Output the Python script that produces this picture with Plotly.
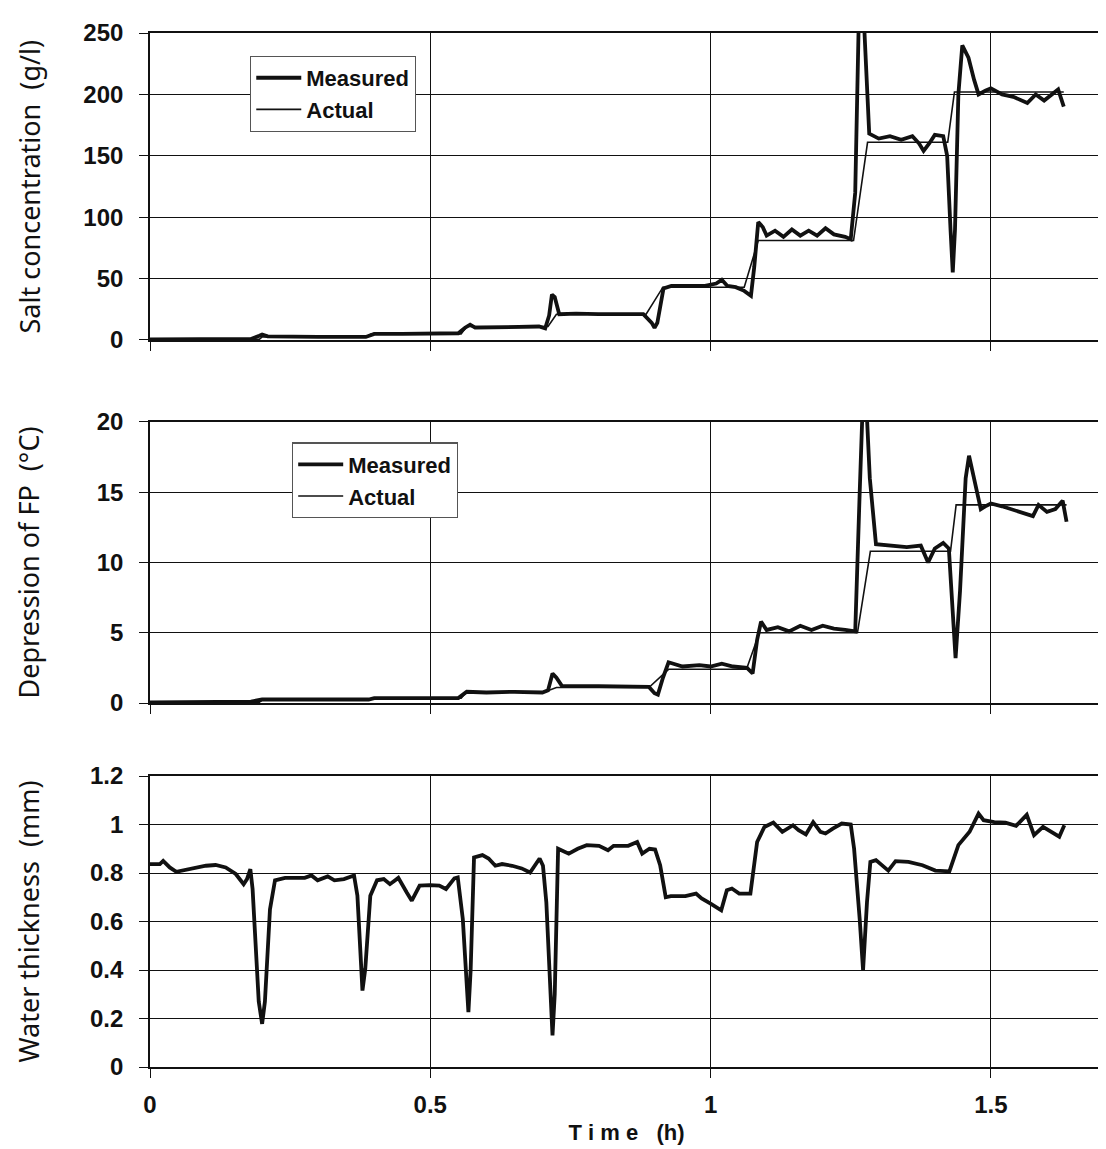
import plotly.graph_objects as go

# ---------------- data (time in hours) ----------------
salt_meas_t = [0, 0.18, 0.195, 0.2, 0.21, 0.25, 0.3, 0.385, 0.4, 0.45, 0.5, 0.55, 0.562, 0.571, 0.58, 0.62,
               0.66, 0.694, 0.705, 0.712, 0.717, 0.722, 0.73, 0.76, 0.8, 0.84, 0.88, 0.895, 0.9, 0.905, 0.916,
               0.93, 0.96, 0.99, 1.01, 1.02, 1.03, 1.045, 1.06, 1.072, 1.078, 1.085, 1.093, 1.10, 1.115, 1.13,
               1.145, 1.16, 1.175, 1.19, 1.205, 1.22, 1.24, 1.25, 1.258, 1.265, 1.272, 1.283, 1.30, 1.32, 1.34,
               1.36, 1.372, 1.38, 1.39, 1.40, 1.415, 1.422, 1.428, 1.432, 1.436, 1.442, 1.449, 1.46, 1.47, 1.478,
               1.49, 1.50, 1.52, 1.54, 1.565, 1.58, 1.595, 1.61, 1.62, 1.63]
salt_meas_v = [0.5, 0.8, 3.5, 4.5, 3, 2.5, 2.5, 2.5, 5, 5, 5, 5.5, 10, 12.5, 10, 10.5,
               11, 11, 9.5, 20, 37, 35, 21, 21.5, 21, 21, 21, 14, 10, 14, 42,
               44, 44, 44, 46, 49, 44, 43, 40, 36, 60, 96, 92, 85, 89, 84,
               90, 85, 89, 85, 91, 86, 84, 82, 120, 275, 275, 168, 164, 166, 163,
               166, 160, 154, 160, 167, 166, 150, 90, 55, 90, 200, 240, 230, 212, 200,
               203, 205, 200, 198, 193, 200, 195, 200, 204, 190]

salt_act_t = [0, 0.195, 0.2, 0.385, 0.395, 0.555, 0.565, 0.71, 0.725, 0.885, 0.915, 1.06, 1.085, 1.255,
              1.28, 1.423, 1.435, 1.63]
salt_act_v = [0.5, 0.5, 2.5, 2.5, 5, 5, 11, 11, 21, 21, 43, 43, 81, 81, 161, 161, 202, 202]

fp_meas_t = [0, 0.18, 0.2, 0.39, 0.4, 0.55, 0.565, 0.6, 0.65, 0.70, 0.71, 0.718, 0.725, 0.735, 0.8, 0.85,
             0.89, 0.9, 0.906, 0.915, 0.925, 0.95, 0.98, 1.0, 1.02, 1.04, 1.065, 1.075, 1.083, 1.09, 1.10,
             1.12, 1.14, 1.16, 1.18, 1.20, 1.22, 1.24, 1.258, 1.266, 1.272, 1.277, 1.284, 1.295, 1.32, 1.35,
             1.375, 1.388, 1.40, 1.415, 1.425, 1.432, 1.437, 1.445, 1.455, 1.461, 1.47, 1.482, 1.49, 1.50,
             1.52, 1.55, 1.575, 1.585, 1.60, 1.615, 1.628, 1.635]
fp_meas_v = [0.05, 0.1, 0.25, 0.25, 0.35, 0.35, 0.8, 0.75, 0.8, 0.75, 0.9, 2.1, 1.8, 1.2, 1.2, 1.2,
             1.15, 0.7, 0.6, 1.8, 2.9, 2.6, 2.7, 2.6, 2.8, 2.6, 2.5, 2.1, 4.5, 5.8, 5.2,
             5.4, 5.1, 5.5, 5.2, 5.5, 5.3, 5.2, 5.1, 15, 22, 22, 16, 11.3, 11.2, 11.1,
             11.2, 10.0, 11.0, 11.4, 11.0, 6.0, 3.2, 8.0, 16.0, 17.6, 16.0, 13.8, 14.0, 14.2,
             14.0, 13.6, 13.3, 14.1, 13.6, 13.8, 14.4, 12.9]

fp_act_t = [0, 0.195, 0.2, 0.39, 0.4, 0.555, 0.565, 0.705, 0.725, 0.89, 0.925, 1.064, 1.087, 1.262,
            1.285, 1.428, 1.438, 1.635]
fp_act_v = [0.05, 0.05, 0.2, 0.2, 0.35, 0.35, 0.8, 0.8, 1.1, 1.1, 2.4, 2.4, 5.0, 5.0, 10.8, 10.8, 14.1, 14.1]

water_t = [0, 0.0176, 0.0235, 0.0352, 0.0469, 0.0704, 0.0998, 0.117, 0.135, 0.153, 0.167, 0.173, 0.179,
           0.183, 0.194, 0.200, 0.205, 0.214, 0.223, 0.241, 0.276, 0.288, 0.299, 0.317, 0.329, 0.346, 0.364,
           0.370, 0.379, 0.384, 0.393, 0.405, 0.417, 0.428, 0.443, 0.458, 0.467, 0.481, 0.499, 0.516, 0.528,
           0.543, 0.549, 0.558, 0.568, 0.572, 0.578, 0.593, 0.604, 0.616, 0.628, 0.646, 0.663, 0.678, 0.687,
           0.695, 0.701, 0.707, 0.718, 0.722, 0.728, 0.747, 0.763, 0.779, 0.801, 0.817, 0.827, 0.853, 0.869,
           0.878, 0.891, 0.901, 0.910, 0.920, 0.929, 0.955, 0.974, 0.984, 1.0, 1.019, 1.029, 1.038, 1.051,
           1.071, 1.083, 1.096, 1.112, 1.128, 1.147, 1.157, 1.170, 1.183, 1.196, 1.205, 1.218, 1.234, 1.250,
           1.256, 1.266, 1.272, 1.279, 1.285, 1.295, 1.317, 1.330, 1.353, 1.378, 1.401, 1.426, 1.442, 1.462,
           1.478, 1.487, 1.506, 1.526, 1.545, 1.564, 1.577, 1.593, 1.609, 1.622, 1.631]
water_v = [0.837, 0.837, 0.85, 0.823, 0.805, 0.816, 0.83, 0.833, 0.823, 0.796, 0.754, 0.775, 0.816,
           0.734, 0.27, 0.178, 0.27, 0.65, 0.77, 0.78, 0.78, 0.79, 0.77, 0.786, 0.77, 0.775, 0.79,
           0.706, 0.315, 0.405, 0.706, 0.77, 0.775, 0.754, 0.78, 0.72, 0.686, 0.748, 0.75, 0.748, 0.734,
           0.778, 0.782, 0.61, 0.226, 0.4, 0.864, 0.874, 0.86, 0.83, 0.837, 0.83, 0.819, 0.802, 0.83,
           0.86, 0.83, 0.679, 0.13, 0.3, 0.90, 0.88, 0.90, 0.915, 0.912, 0.894, 0.912, 0.912, 0.928,
           0.88, 0.90, 0.897, 0.832, 0.70, 0.705, 0.705, 0.715, 0.695, 0.674, 0.646, 0.729, 0.736, 0.715,
           0.715, 0.928, 0.99, 1.008, 0.97, 0.997, 0.977, 0.959, 1.01, 0.97, 0.963, 0.983, 1.004, 1.0,
           0.90, 0.61, 0.40, 0.68, 0.846, 0.853, 0.81, 0.849, 0.846, 0.832, 0.81, 0.807, 0.915, 0.97,
           1.045, 1.018, 1.01, 1.008, 0.995, 1.04, 0.956, 0.99, 0.97, 0.95, 0.997]

x_ticks = [0, 0.5, 1, 1.5]
x_tick_text = ["0", "0.5", "1", "1.5"]
salt_ticks = [0, 50, 100, 150, 200, 250]
fp_ticks = [0, 5, 10, 15, 20]
water_ticks = [0, 0.2, 0.4, 0.6, 0.8, 1.0, 1.2]
water_tick_text = ["0", "0.2", "0.4", "0.6", "0.8", "1", "1.2"]

# ---------------- figure ----------------
INK = "#111111"
THICK = 3.8
THIN = 1.6

fig = go.Figure()
fig.add_trace(go.Scatter(x=salt_meas_t, y=salt_meas_v, mode="lines", name="Measured",
                         line=dict(color=INK, width=THICK), xaxis="x", yaxis="y", legend="legend"))
fig.add_trace(go.Scatter(x=salt_act_t, y=salt_act_v, mode="lines", name="Actual",
                         line=dict(color=INK, width=THIN), xaxis="x", yaxis="y", legend="legend"))
fig.add_trace(go.Scatter(x=fp_meas_t, y=fp_meas_v, mode="lines", name="Measured",
                         line=dict(color=INK, width=THICK), xaxis="x2", yaxis="y2", legend="legend2"))
fig.add_trace(go.Scatter(x=fp_act_t, y=fp_act_v, mode="lines", name="Actual",
                         line=dict(color=INK, width=THIN), xaxis="x2", yaxis="y2", legend="legend2"))
fig.add_trace(go.Scatter(x=water_t, y=water_v, mode="lines", name="Water thickness", showlegend=False,
                         line=dict(color=INK, width=THICK), xaxis="x3", yaxis="y3"))

tick_font = dict(family="Liberation Sans, Arial, sans-serif", size=24, color=INK, weight="bold")
title_font = dict(family="Noto Sans, Open Sans, sans-serif", size=27, color=INK)
legend_font = dict(family="Liberation Sans, Arial, sans-serif", size=22, color=INK, weight="bold")

common_x = dict(range=[0, 1.7], tickvals=x_ticks, ticktext=x_tick_text, showgrid=True, gridcolor=INK,
                gridwidth=1.2, showline=True, linecolor=INK, linewidth=1.6, mirror=True,
                ticks="outside", ticklen=9, tickcolor=INK, tickwidth=1.2, zeroline=False, tickfont=tick_font)
common_y = dict(showgrid=True, gridcolor=INK, gridwidth=1.2, showline=True, linecolor=INK, linewidth=1.6,
                mirror=True, ticks="outside", ticklen=9, tickcolor=INK, tickwidth=1.2, zeroline=False,
                tickfont=tick_font, ticklabelstandoff=11)

dom1 = [0.7031, 1.0]
dom2 = [0.352, 0.6238]
dom3 = [0.0, 0.2814]

fig.update_layout(
    width=1106, height=1149,
    margin=dict(l=142, r=9, t=25, b=90),
    paper_bgcolor="white", plot_bgcolor="white",
    xaxis=dict(common_x, domain=[0, 1], anchor="y", showticklabels=False),
    xaxis2=dict(common_x, domain=[0, 1], anchor="y2", showticklabels=False),
    xaxis3=dict(common_x, domain=[0, 1], anchor="y3", ticklabelstandoff=6,
                title=dict(text="T i m e   (h)", font=dict(family="Liberation Sans, Arial, sans-serif",
                                                      size=22, color=INK, weight="bold"), standoff=8)),
    yaxis=dict(common_y, domain=dom1, anchor="x", range=[0, 250], tickvals=salt_ticks),
    yaxis2=dict(common_y, domain=dom2, anchor="x2", range=[0, 20], tickvals=fp_ticks),
    yaxis3=dict(common_y, domain=dom3, anchor="x3", range=[0, 1.2], tickvals=water_ticks,
                ticktext=water_tick_text),
    legend=dict(x=0.105, y=0.978, xanchor="left", yanchor="top", bgcolor="white",
                bordercolor="#555555", borderwidth=1.2, font=legend_font, tracegroupgap=0,
                itemwidth=45),
    legend2=dict(x=0.149, y=0.604, xanchor="left", yanchor="top", bgcolor="white",
                 bordercolor="#555555", borderwidth=1.2, font=legend_font, tracegroupgap=0,
                 itemwidth=45),
    showlegend=True,
)

ytitles = [("Salt concentration  (g/l)", dom1), ("Depression of FP  (°C)", dom2),
           ("Water thickness  (mm)", dom3)]
for txt, dom in ytitles:
    fig.add_annotation(text=txt, xref="paper", yref="paper", x=0, y=(dom[0] + dom[1]) / 2,
                       xanchor="center", yanchor="middle", xshift=-121, textangle=-90,
                       showarrow=False, font=title_font)

fig.write_html("out.html")
